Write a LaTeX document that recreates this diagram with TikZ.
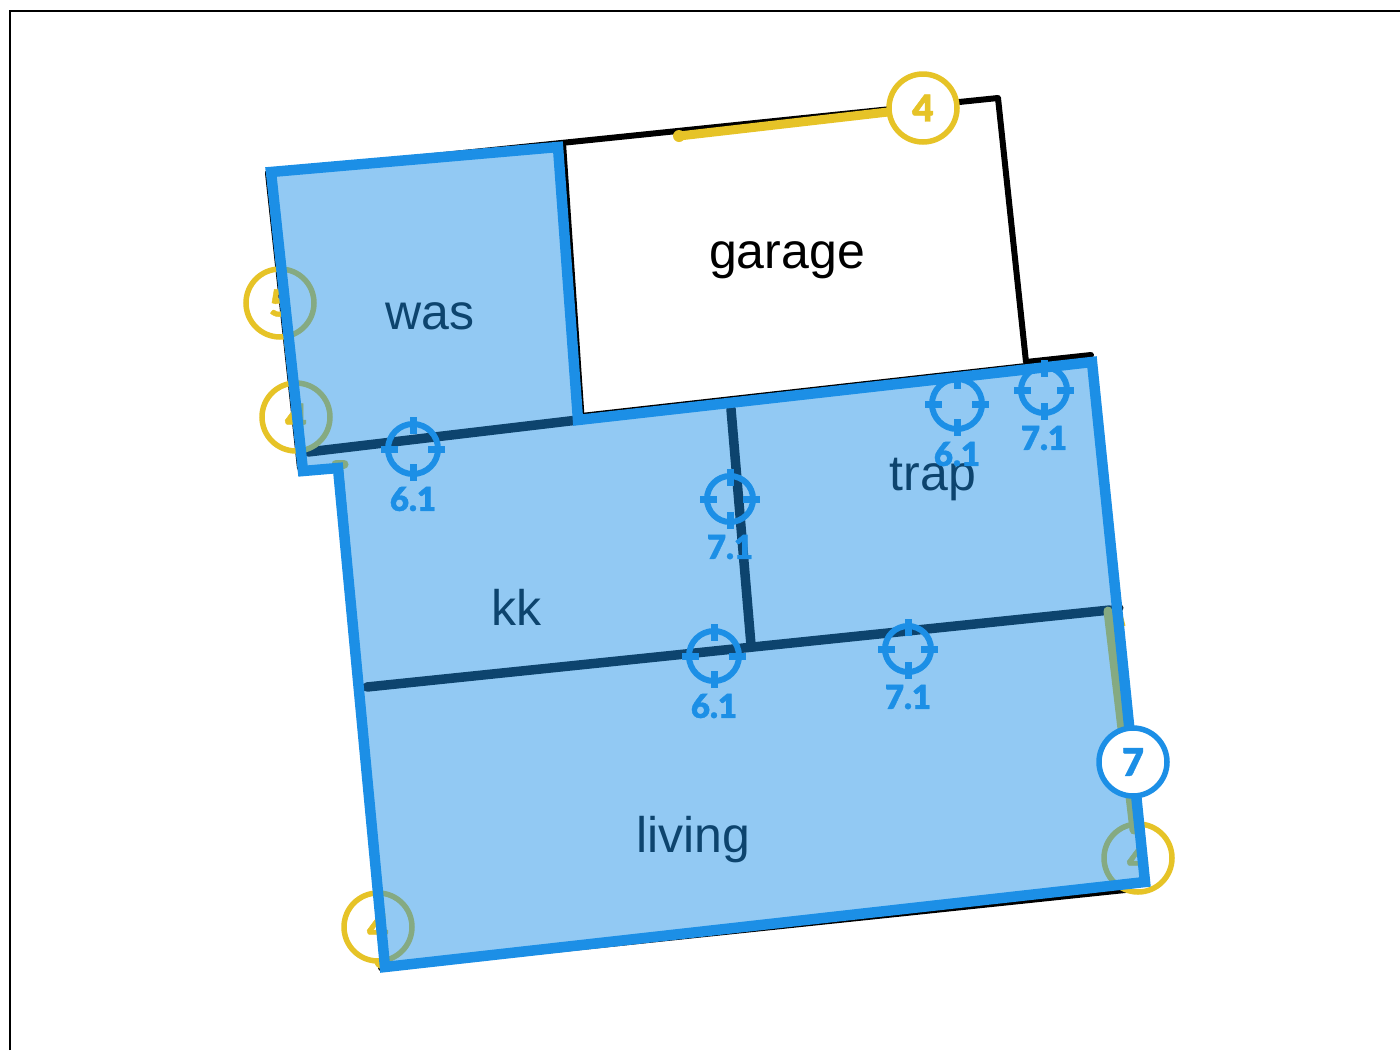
\documentclass[tikz,border=0pt]{standalone}
\usepackage{fontspec}
\setmainfont{Liberation Sans}
\newfontfamily\tagfont{Lato}[BoldFont={Lato Black},BoldFeatures={FakeBold=1.2}]
\definecolor{wallblue}{HTML}{1C8FE6}
\definecolor{yel}{HTML}{E6C327}
\tikzset{
  x=1pt,y=-1pt,
  wall/.style={draw=black,line width=6pt,line cap=round,line join=round},
  iwall/.style={draw=black,line width=9.5pt,line cap=round},
  gwall/.style={draw=black,line width=7pt,line cap=butt,line join=miter},
  yline/.style={draw=yel,line width=9pt,line cap=round},
  ybadge/.style={circle,draw=yel,line width=5.5pt,minimum size=68pt,inner sep=0pt,text=yel,font=\tagfont\bfseries\fontsize{37}{37}\selectfont},
  bbadge/.style={circle,draw=wallblue,fill=white,line width=5.5pt,minimum size=68pt,inner sep=0pt,text=wallblue,font=\tagfont\bfseries\fontsize{38}{38}\selectfont},
  room/.style={font=\fontsize{50}{50}\selectfont,text=black,inner sep=0pt},
  tag/.style={font=\tagfont\bfseries\fontsize{33}{33}\selectfont,text=wallblue,inner sep=0pt},
  target/.style={circle,draw=wallblue,line width=6pt,inner sep=0pt},
  tick/.style={draw=wallblue,line width=7pt},
}
\newcommand{\targetmark}[5]{% name, x, y, radius(px), label
  \node[target,minimum size=#4*2pt] (#1) at (#2,#3) {};
  \draw[tick] ($(#1.center)+(0,-#4-7)$) -- ($(#1.center)+(0,-#4+10)$);
  \draw[tick] ($(#1.center)+(0,#4+7)$) -- ($(#1.center)+(0,#4-10)$);
  \draw[tick] ($(#1.center)+(-#4-7,0)$) -- ($(#1.center)+(-#4+10,0)$);
  \draw[tick] ($(#1.center)+(#4+7,0)$) -- ($(#1.center)+(#4-10,0)$);
  \node[tag] (#1t) at ($(#1.center)+(0,#4+25)$) {#5};
}
\usetikzlibrary{calc}
\begin{document}
\begin{tikzpicture}
\useasboundingbox (0,0) rectangle (1400,1050);
\draw[black,line width=2.5pt] (10,1050) -- (10,11) -- (1400,11);
% outer walls
\coordinate (nw) at (268,173);
\coordinate (gn) at (561,143);
\coordinate (ge) at (998,98);
\coordinate (gs) at (1026,362);
\coordinate (tne) at (1091,355);
\coordinate (se) at (1125,890);
\coordinate (sw) at (381,968);
\coordinate (ww) at (300,468);
\coordinate (kn) at (341,464);
\coordinate (ke) at (1120,608);
\draw[wall] (nw) -- (gn) -- (ge) -- (gs) -- (tne);
\draw[wall] (se) -- (sw);
\draw[wall] (nw) -- (ww);
\draw[draw=black,line width=3pt] (kn) -- (361,684);
\draw[draw=black,line width=7pt,line cap=round] (1112,609) -- (ke);
% inner walls
\coordinate (a1) at (308,452);
\coordinate (a2) at (578,420);
\coordinate (a3) at (581,416.5);
\coordinate (b1) at (731,409);
\coordinate (b2) at (751,645);
\coordinate (c1) at (367,687);
\coordinate (c2) at (1110,610);
\draw[iwall] (a1) -- (a2);
\draw[gwall] (562.5,143) -- (a3) -- (1026,366.5);
\draw[iwall] (b1) -- (b2);
\draw[iwall] (c1) -- (c2);
% yellow annotation lines
\node[ybadge,fill=white] (y1) at (923,108) {4};
\coordinate (y1e) at (679,136);
\draw[yline] (y1e) -- (y1);
\fill[yel] (y1e) circle (6pt);
\node[ybadge] (y2) at (280,303) {5};
\node[ybadge] (y3) at (296,417) {4};
\node[ybadge] (y4) at (378,927) {4};
\node[ybadge] (y5) at (1138,858) {4};
\draw[draw=yel,line width=3pt] (272,176) -- (y2) (y2) -- (y3);
\draw[draw=yel,line width=3pt] (kn) -- (y4);
\draw[draw=yel,line width=6pt,line cap=round] (y4.south) -- (381,966);
\draw[draw=yel,line width=9pt,line cap=round] (336,464) -- (344,464);
\draw[draw=yel,line width=9pt,line cap=round] (1108,611) -- (1134,830);
\draw[draw=yel,line width=3pt] (1122,618) -- (1124,626);
% room labels
\node[room] (garage) at (787,260) {garage};
\node[room] (was) at (430,316) {was};
\node[room] (trap) at (933,480) {trap};
\node[room] (kk) at (516,607) {kk};
\node[room] (living) at (693,840) {living};
% blue overlay
\draw[draw=wallblue,line width=10.5pt,miter limit=10,fill=wallblue,fill opacity=.48,draw opacity=1]
  (271,172) -- (558,147) -- (578,420) -- (1092,362) -- (1145,882) -- (385,967) -- (338,468) -- (303,471) -- cycle;
% targets
\targetmark{m1}{413}{449}{25}{6.1}
\targetmark{m2}{730}{499}{23}{7.1}
\targetmark{m3}{714}{656}{25}{6.1}
\targetmark{m4}{908}{649}{23}{7.1}
\targetmark{m5}{957}{404}{25}{6.1}
\targetmark{m6}{1044}{390}{23}{7.1}
\node[bbadge] (b7) at (1133,762) {7};
\end{tikzpicture}
\end{document}
